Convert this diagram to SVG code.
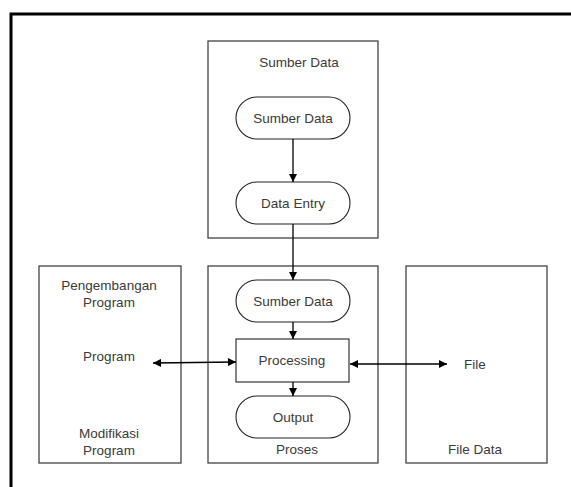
<svg xmlns="http://www.w3.org/2000/svg" width="571" height="487" viewBox="0 0 571 487">
<style>
.box{fill:none;stroke:#444;stroke-width:1.3}
.shape{fill:#fff;stroke:#222;stroke-width:1.1}
.t{font-family:"Liberation Sans",Arial,sans-serif;font-size:13.5px;fill:#3a3a3a;text-anchor:middle;dominant-baseline:central}
.c{fill:none;stroke:#000;stroke-width:1.3}
</style>
<defs>
<marker id="ah" viewBox="0 0 10 10" refX="10" refY="5" markerWidth="10" markerHeight="8" markerUnits="userSpaceOnUse" orient="auto-start-reverse">
<path d="M0,0 L10,5 L0,10 z" fill="#000"/>
</marker>
</defs>
<rect width="571" height="487" fill="#fff"/>
<path d="M11,487 V14 H571" fill="none" stroke="#000" stroke-width="3"/>
<g id="sumber-data-group">
<rect class="box" x="208" y="41" width="170" height="197"/>
<text class="t" x="299" y="62">Sumber Data</text>
</g>
<g id="sumber-data-1">
<rect class="shape" x="236" y="97" width="114" height="42" rx="21"/>
<text class="t" x="293" y="118">Sumber Data</text>
</g>
<g id="data-entry">
<rect class="shape" x="236" y="182" width="114" height="42" rx="21"/>
<text class="t" x="293" y="203">Data Entry</text>
</g>
<g id="pengembangan-group">
<rect class="box" x="39" y="266" width="142" height="197"/>
<text class="t" x="109" y="285">Pengembangan</text>
<text class="t" x="109" y="302">Program</text>
<text class="t" x="109" y="433">Modifikasi</text>
<text class="t" x="109" y="450">Program</text>
</g>
<g id="program">
<text class="t" x="109" y="356">Program</text>
</g>
<g id="proses-group">
<rect class="box" x="208" y="266" width="170" height="197"/>
<text class="t" x="297" y="449">Proses</text>
</g>
<g id="sumber-data-2">
<rect class="shape" x="236" y="280" width="114" height="42" rx="21"/>
<text class="t" x="293" y="301">Sumber Data</text>
</g>
<g id="processing">
<rect class="shape" x="236" y="339" width="113" height="43"/>
<text class="t" x="292" y="360">Processing</text>
</g>
<g id="output">
<rect class="shape" x="236" y="396" width="114" height="42" rx="21"/>
<text class="t" x="293" y="417">Output</text>
</g>
<g id="file-data-group">
<rect class="box" x="406" y="266" width="141" height="197"/>
<text class="t" x="475" y="449">File Data</text>
</g>
<g id="file">
<text class="t" x="475" y="364">File</text>
</g>
<g id="connectors">
<line class="c" x1="293" y1="139" x2="293" y2="182" marker-end="url(#ah)"/>
<line class="c" x1="293" y1="224" x2="293" y2="280" marker-end="url(#ah)"/>
<line class="c" x1="293" y1="322" x2="293" y2="339" marker-end="url(#ah)"/>
<line class="c" x1="293" y1="382" x2="293" y2="396" marker-end="url(#ah)"/>
<line class="c" x1="153" y1="363" x2="236" y2="362" marker-start="url(#ah)" marker-end="url(#ah)"/>
<line class="c" x1="350" y1="364" x2="447" y2="364" marker-start="url(#ah)" marker-end="url(#ah)"/>
</g>
</svg>
